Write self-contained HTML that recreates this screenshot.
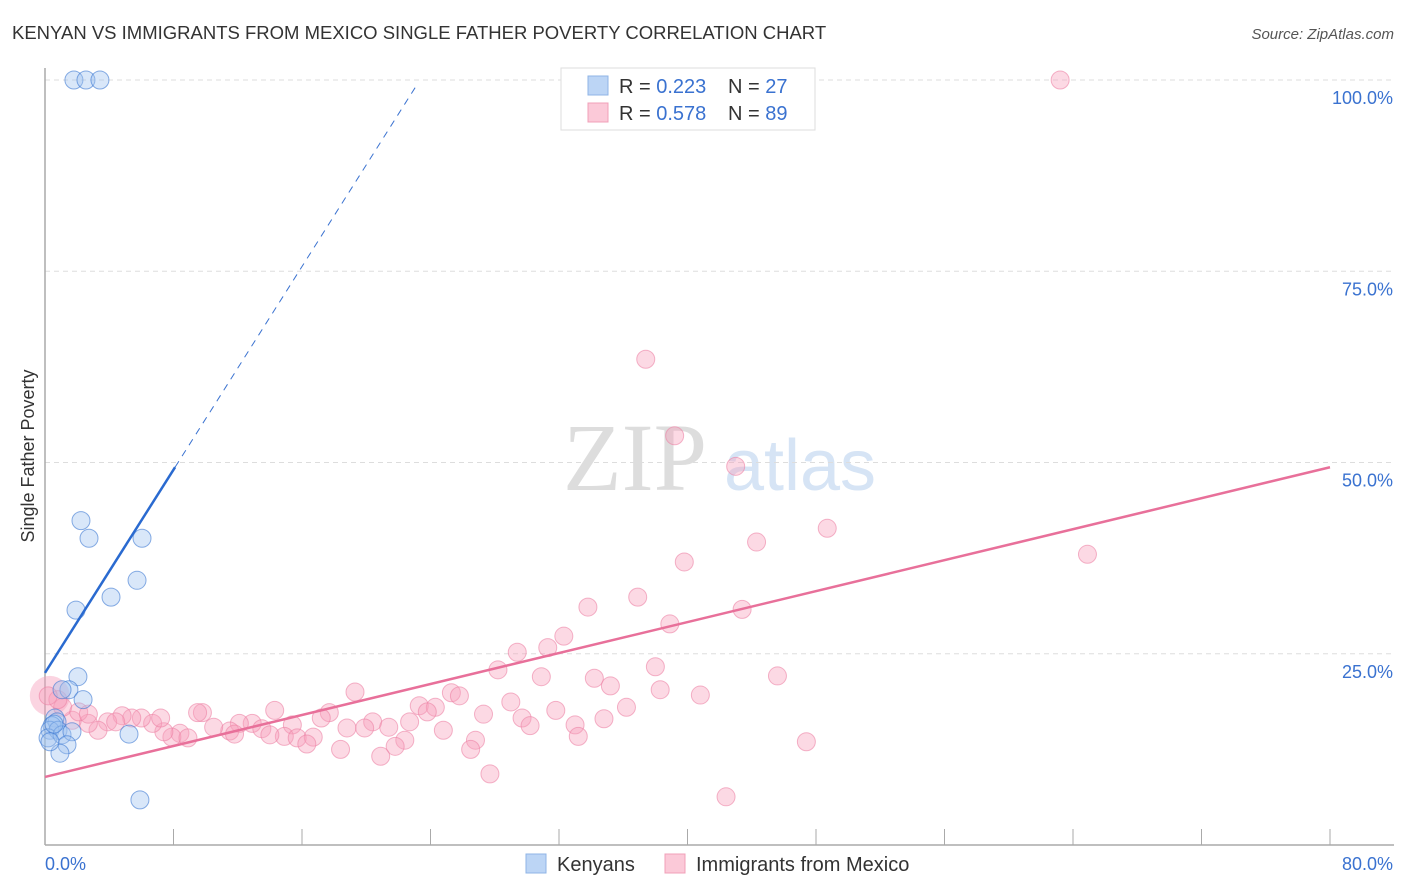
<!DOCTYPE html>
<html><head><meta charset="utf-8">
<style>
body{margin:0;background:#fff;font-family:"Liberation Sans",sans-serif;}
svg{display:block}
</style></head>
<body>
<svg id="chart" width="1406" height="892" xmlns="http://www.w3.org/2000/svg">
<text x="12" y="39" font-size="18.5" fill="#333">KENYAN VS IMMIGRANTS FROM MEXICO SINGLE FATHER POVERTY CORRELATION CHART</text>
<text x="1394" y="39" font-size="15" fill="#555" font-style="italic" text-anchor="end">Source: ZipAtlas.com</text>
<text x="34" y="456" font-size="18" fill="#333" text-anchor="middle" transform="rotate(-90 34 456)">Single Father Poverty</text>
<g>
<text x="635" y="490" font-size="96" fill="#ddd" font-family="Liberation Serif,serif" text-anchor="middle">ZIP</text>
<text x="800" y="490" font-size="72" fill="#d6e4f5" text-anchor="middle">atlas</text>
</g>
<g id="grid"></g>
<g id="axes"></g>
<g id="marks"></g>
<g>
<rect x="561" y="68" width="254" height="62" fill="#fff" stroke="#ddd"/>
<rect x="588" y="76" width="20" height="19" fill="#bcd5f5" stroke="#8fb4e6"/>
<rect x="588" y="103" width="20" height="19" fill="#fbc9d8" stroke="#f0a0b8"/>
<text x="619" y="93" font-size="20" fill="#333">R = <tspan fill="#3a72d0">0.223</tspan><tspan x="728">N = </tspan><tspan fill="#3a72d0">27</tspan></text>
<text x="619" y="120" font-size="20" fill="#333">R = <tspan fill="#3a72d0">0.578</tspan><tspan x="728">N = </tspan><tspan fill="#3a72d0">89</tspan></text>
</g>
<g>
<rect x="526" y="854" width="20" height="19" fill="#bcd5f5" stroke="#8fb4e6"/>
<text x="557" y="871" font-size="20" fill="#333">Kenyans</text>
<rect x="665" y="854" width="20" height="19" fill="#fbc9d8" stroke="#f0a0b8"/>
<text x="696" y="871" font-size="20" fill="#333">Immigrants from Mexico</text>
</g>
</svg>
<script>
const yTicks=[25,50,75,100];
const yTickLabels=["25.0%","50.0%","75.0%","100.0%"];
const xTicks=[0,8,16,24,32,40,48,56,64,72,80];
const kenX=[1.8,2.55,3.42,2.24,2.74,6.04,5.73,4.11,1.93,2.05,1.49,1.06,2.37,0.62,0.75,0.44,0.31,0.81,0.19,1.06,1.68,1.37,0.93,5.23,5.91,0.31,0.56];
const kenY=[100,100,100,42.4,40.1,40.1,34.6,32.4,30.7,22.0,20.3,20.3,19.0,16.6,16.1,15.6,15.0,15.0,14.0,14.4,14.8,13.1,12.0,14.5,5.9,13.5,15.8];
const mexX=[63.2,37.4,39.2,43.0,48.7,44.3,64.9,39.8,36.9,33.8,43.4,38.9,32.3,29.4,31.3,38.0,28.2,30.9,34.2,35.2,45.6,38.3,19.3,25.3,25.8,40.8,29.0,23.3,31.8,36.2,14.3,9.8,17.7,24.3,23.8,17.2,27.3,34.8,29.7,22.7,20.4,33.0,30.2,21.4,18.8,15.4,24.8,19.9,12.9,12.1,13.5,11.5,10.5,14.9,15.7,16.7,14.0,11.8,8.4,7.9,8.9,7.4,6.7,6.0,5.4,4.8,3.9,3.3,2.7,1.7,1.1,0.8,2.1,2.7,0.2,7.2,22.4,21.8,18.4,20.9,26.8,26.5,33.2,47.4,16.3,27.7,42.4,9.5,4.4];
const mexY=[100,63.5,53.5,49.5,41.4,39.6,38.0,37.0,32.4,31.1,30.8,28.9,27.3,25.2,25.8,23.3,22.9,22.0,21.8,20.8,22.1,20.3,20.0,19.9,19.5,19.6,18.7,18.2,17.6,18.0,17.6,17.3,17.3,18.0,17.4,16.6,17.1,16.5,16.6,16.1,16.1,15.7,15.6,15.4,15.3,15.7,15.0,15.3,15.9,15.9,15.2,14.9,15.4,14.2,14.0,14.1,14.4,14.5,14.6,14.1,14.0,14.8,15.9,16.6,16.6,16.9,16.1,15.0,15.9,16.3,18.0,19.0,17.4,17.1,19.5,16.6,13.7,12.9,12.5,11.6,13.7,12.5,14.2,13.5,13.2,9.3,6.3,17.3,16.1];
const kenTrend=[22.5,3.32];
const mexTrend=[8.9,0.506];
const NS="http://www.w3.org/2000/svg";
const X=v=>45+v/80*1285;
const Y=v=>845-v*7.65;
function mk(tag,attrs,parent){const e=document.createElementNS(NS,tag);for(const k in attrs)e.setAttribute(k,attrs[k]);document.getElementById(parent).appendChild(e);return e;}
yTicks.forEach((t,i)=>{
 const l=mk('line',{x1:45,x2:1394,y1:Y(t),y2:Y(t),stroke:'#ddd','stroke-dasharray':'5,4'},'grid');
 
 
 const tx=mk('text',{x:1393,y:Y(t)+24,'font-size':18,fill:'#3a72d0','text-anchor':'end'},'grid');
 tx.textContent=yTickLabels[i];
 
 
});
const ax=mk('line',{x1:45,x2:45,y1:68,y2:845,stroke:'#aaa','stroke-width':1.5},'axes');


const bx=mk('line',{x1:45,x2:1394,y1:845,y2:845,stroke:'#aaa','stroke-width':1.5},'axes');


xTicks.forEach(t=>{
 const l=mk('line',{x1:X(t),x2:X(t),y1:829,y2:845,stroke:'#aaa'},'axes');
 
 
});
const x0=mk('text',{x:45,y:870,'font-size':18,fill:'#3a72d0'},'axes');x0.textContent='0.0%';


const x1=mk('text',{x:1393,y:870,'font-size':18,fill:'#3a72d0','text-anchor':'end'},'axes');x1.textContent='80.0%';


const big=mk('circle',{cx:X(0.3),cy:Y(19.5),r:20,fill:'rgba(247,160,188,0.45)',stroke:'none'},'marks');


mexX.forEach((v,i)=>{
 const c=mk('circle',{cx:X(v),cy:Y(mexY[i]),r:9,fill:'rgba(247,160,188,0.4)',stroke:'rgba(236,130,165,0.6)'},'marks');
 
 
});
kenX.forEach((v,i)=>{
 const c=mk('circle',{cx:X(v),cy:Y(kenY[i]),r:9,fill:'rgba(160,195,240,0.4)',stroke:'rgba(60,120,210,0.6)'},'marks');
 
 
});
const kEnd=(99-kenTrend[0])/kenTrend[1];
const kd=mk('line',{x1:X(8.1),y1:Y(kenTrend[0]+kenTrend[1]*8.1),x2:X(kEnd),y2:Y(99),stroke:'#3a72d0','stroke-width':1,'stroke-dasharray':'7,6'},'marks');


const ks=mk('line',{x1:X(0),y1:Y(kenTrend[0]),x2:X(8.1),y2:Y(kenTrend[0]+kenTrend[1]*8.1),stroke:'#2a6ad0','stroke-width':2.5},'marks');


const ms=mk('line',{x1:X(0),y1:Y(mexTrend[0]),x2:X(80),y2:Y(mexTrend[0]+mexTrend[1]*80),stroke:'#e8709a','stroke-width':2.5},'marks');


</script>
</body></html>
